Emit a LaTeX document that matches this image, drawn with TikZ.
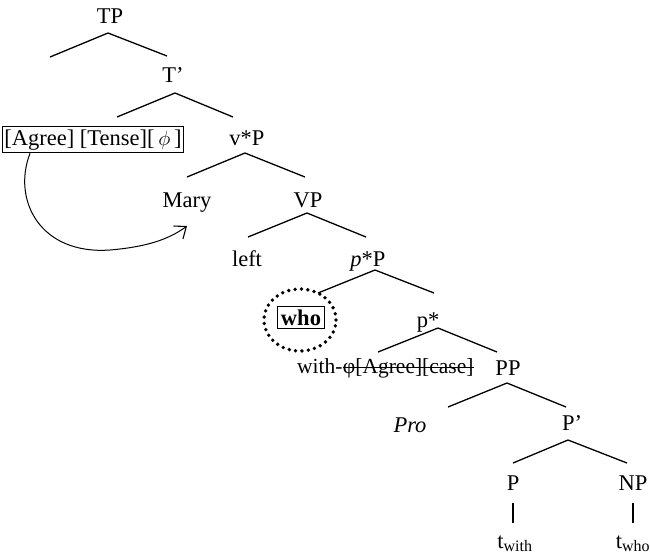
\documentclass[tikz,border=0pt]{standalone}
\usepackage{fontspec}
\setmainfont{Liberation Serif}
\usetikzlibrary{arrows.meta,shapes.geometric}
\tikzset{
  lbl/.style={font=\fontsize{22.5}{26}\selectfont, inner sep=0pt, anchor=base},
  branch/.style={line width=1.3pt},
  featbox/.style={draw, line width=0.9pt, inner xsep=2pt, inner ysep=3pt},
  dotring/.style={draw, ellipse, line width=3.8pt, dash pattern=on 0pt off 6.4pt, line cap=round},
}
\begin{document}
\begin{tikzpicture}[x=1pt,y=-1pt]
\useasboundingbox (0,0) rectangle (650,555);

% category labels
\node[lbl] (TP)    at (110,23)  {TP};
\node[lbl] (Tbar)  at (173,82)  {T'};
\node[lbl,featbox,anchor=base] (feat) at (93,145) {[Agree] [Tense][\,$\phi$\,]};
\node[lbl] (vP)    at (247,145) {v*P};
\node[lbl] (Mary)  at (187,207) {Mary};
\node[lbl] (VP)    at (308,207) {VP};
\node[lbl] (left)  at (247,266) {left};
\node[lbl] (pP)    at (368,266) {\textit{p}*P};
\node[lbl,draw,line width=1pt,inner xsep=3pt,inner ysep=3pt] (who) at (301,325) {\textbf{who}};
\node[dotring, minimum width=72pt, minimum height=62pt] (ring) at (300,320) {};
\node[lbl] (pst)   at (428,327) {p*};
\node[lbl,anchor=base west,font=\fontsize{21.5}{25}\selectfont] (with) at (297,373) {with-};
\node[lbl,anchor=base west,font=\fontsize{21.5}{25}\selectfont] (strk) at (with.base east) {φ[Agree][case]};
\node[lbl] (PP)    at (508,375) {PP};
\node[lbl] (Pro)   at (410,432) {\textit{Pro}};
\node[lbl] (Pbar)  at (572,430) {P'};
\node[lbl] (P)     at (513,490) {P};
\node[lbl] (NP)    at (633,490) {NP};
\node[lbl] (tw)    at (515,548) {t\textsubscript{\fontsize{16}{17}\selectfont with}};
\node[lbl] (two)   at (633,548) {t\textsubscript{\fontsize{16}{17}\selectfont who}};

% strike-through of the deleted features
\draw[line width=1.1pt] ([yshift=5.5pt]strk.base west) -- ([yshift=5.5pt]strk.base east);

% branch points
\coordinate (aTP)   at (108,33);  \coordinate (lTP)  at (50,57);   \coordinate (rTP)  at (167,56);
\coordinate (aT)    at (175,93);  \coordinate (lT)   at (117,117); \coordinate (rT)   at (233,117);
\coordinate (av)    at (245,153); \coordinate (lv)   at (187,177); \coordinate (rv)   at (305,177);
\coordinate (aVP)   at (307,213); \coordinate (lVP)  at (248,237); \coordinate (rVP)  at (366,237);
\coordinate (ap)    at (375,270); \coordinate (lp)   at (318,293); \coordinate (rp)   at (434,293);
\coordinate (ast)   at (438,328); \coordinate (lst)  at (378,352); \coordinate (rst)  at (497,352);
\coordinate (aPP)   at (507,383); \coordinate (lPP)  at (448,407); \coordinate (rPP)  at (566,407);
\coordinate (aPb)   at (568,440); \coordinate (lPb)  at (513,463); \coordinate (rPb)  at (627,463);

\draw[branch] (lTP) -- (aTP) -- (rTP);
\draw[branch] (lT)  -- (aT)  -- (rT);
\draw[branch] (lv)  -- (av)  -- (rv);
\draw[branch] (lVP) -- (aVP) -- (rVP);
\draw[branch] (lp)  -- (ap)  -- (rp);
\draw[branch] (lst) -- (ast) -- (rst);
\draw[branch] (lPP) -- (aPP) -- (rPP);
\draw[branch] (lPb) -- (aPb) -- (rPb);

% traces
\draw[line width=1.1pt] ([yshift=-13pt]P.base)  -- ([yshift=-33pt]P.base);
\draw[line width=1.1pt] ([yshift=-13pt]NP.base) -- ([yshift=-33pt]NP.base);

% agreement arrow
\coordinate (tip) at (187,226);
\draw[line width=1pt, -{Straight Barb[length=10pt,width=16pt,line width=1.1pt]}]
  ([xshift=-63pt]feat.south) .. controls (12,200) and (40,255) .. (110,250)
  .. controls (145,247) and (168,240) .. (tip);
\end{tikzpicture}
\end{document}
